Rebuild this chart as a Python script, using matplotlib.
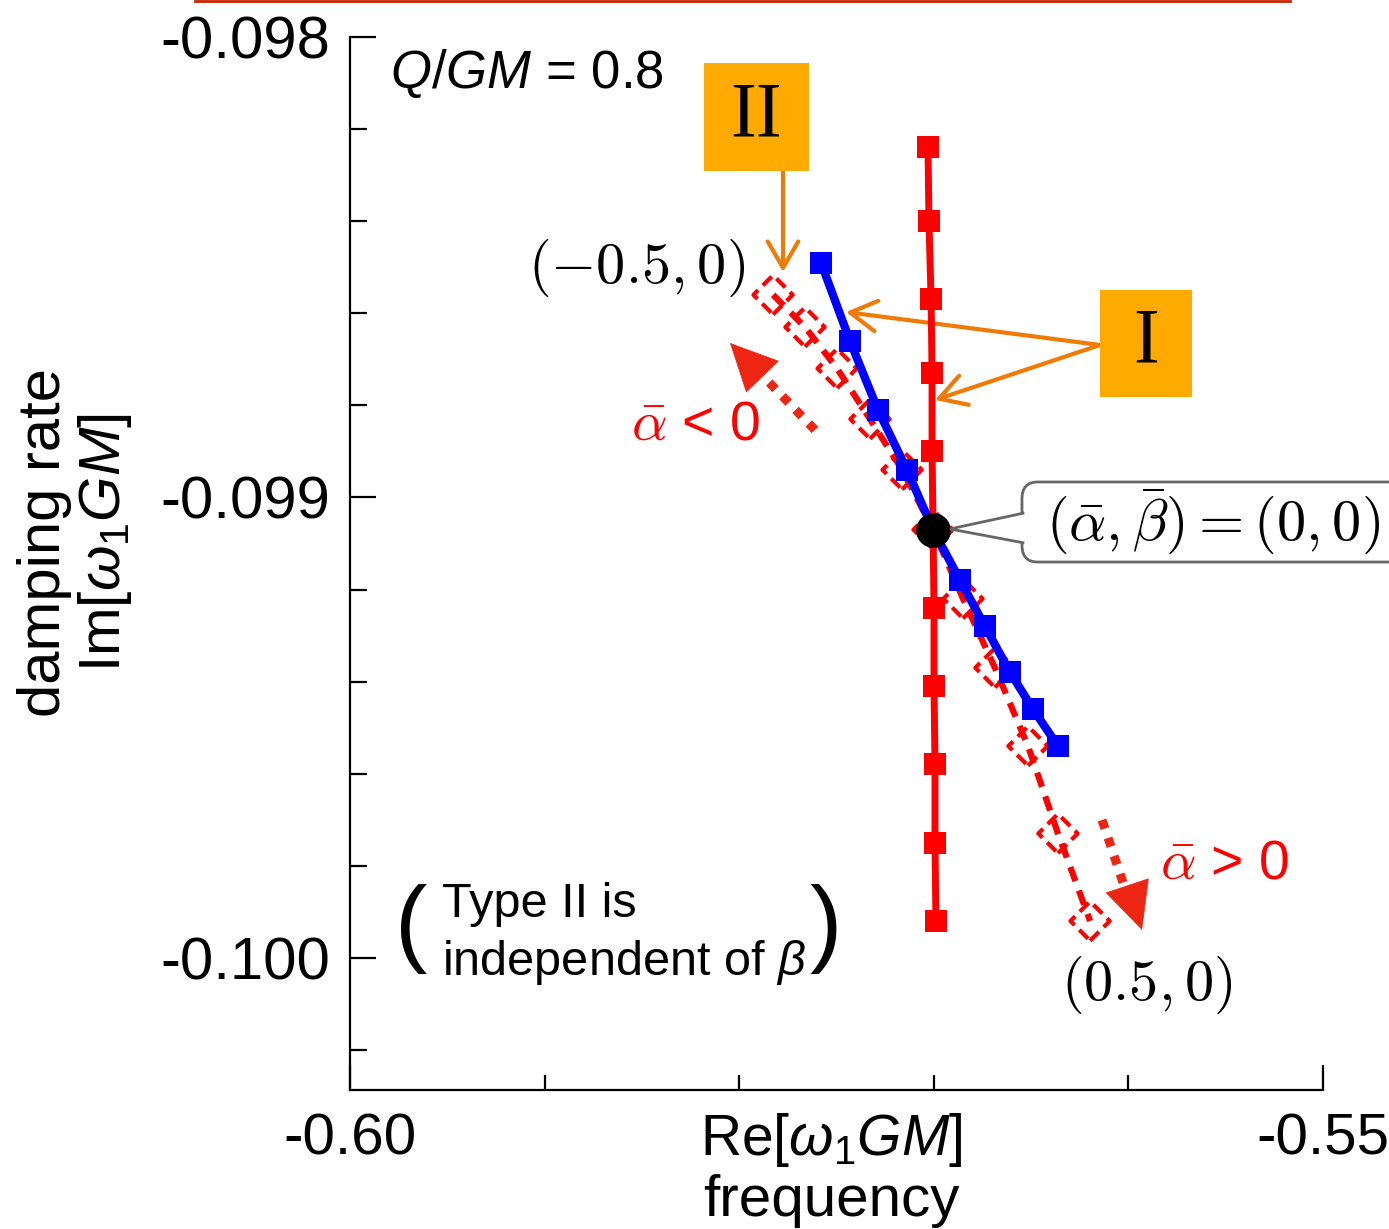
import matplotlib.pyplot as plt
from matplotlib.patches import Rectangle, FancyBboxPatch, Polygon
from matplotlib.lines import Line2D

plt.rcParams['font.family'] = ['Liberation Sans', 'DejaVu Sans']
plt.rcParams['mathtext.fontset'] = 'custom'
plt.rcParams['mathtext.rm'] = 'Liberation Sans'
plt.rcParams['mathtext.it'] = 'Liberation Sans:italic'
plt.rcParams['mathtext.bf'] = 'Liberation Sans:bold'
plt.rcParams['axes.unicode_minus'] = False

# type I, beta varied (red, solid squares)
beta_re = [-0.57030, -0.57025, -0.57014, -0.57009, -0.57009, -0.57004,
           -0.56999, -0.56999, -0.56994, -0.56994, -0.56989]
beta_im = [-0.09824, -0.09840, -0.09857, -0.09873, -0.09890, -0.09907,
           -0.09924, -0.09941, -0.09958, -0.09975, -0.09992]

# type I, alpha varied (blue squares)
alpha_re = [-0.57580, -0.57431, -0.57287, -0.57138, -0.57004,
            -0.56865, -0.56737, -0.56608, -0.56490, -0.56362]
alpha_im = [-0.09849, -0.09866, -0.09881, -0.09894, -0.09907,
            -0.09918, -0.09928, -0.09938, -0.09946, -0.09954]

# type II, alpha varied (red dashed, open diamonds)
type2_re = [-0.57826, -0.57662, -0.57497, -0.57328, -0.57163, -0.57004,
            -0.56850, -0.56686, -0.56516, -0.56362, -0.56197]
type2_im = [-0.09856, -0.09863, -0.09872, -0.09883, -0.09894, -0.09907,
            -0.09922, -0.09937, -0.09954, -0.09973, -0.09992]

origin_re, origin_im = -0.57004, -0.09907

xmajor = [-0.60, -0.55]
xmajor_labels = ['-0.60', '-0.55']
xminor = [-0.59, -0.58, -0.57, -0.56]
ymajor = [-0.098, -0.099, -0.100]
ymajor_labels = ['-0.098', '-0.099', '-0.100']
yminor = [-0.0982, -0.0984, -0.0986, -0.0988, -0.0992, -0.0994, -0.0996,
          -0.0998, -0.1002]

RED = '#FF0000'
ARROW_RED = '#EC2612'
ORANGE = '#EF7A06'
BOX = '#FFAA00'
GREY = '#666666'

fig = plt.figure(figsize=(13.89, 12.29), dpi=100)
ax = fig.add_axes([0.2520, 0.1131, 0.7005, 0.8568])

# type II
ax.plot(type2_re, type2_im, color=RED, lw=4.5, ls=(0, (2.4, 1.6)), zorder=3)
ax.scatter(type2_re, type2_im, marker='D', s=20 ** 2, facecolors='none',
           edgecolors=RED, linewidths=3, linestyles=(0, (3, 1.6)), zorder=3)
# type I beta
ax.plot(beta_re, beta_im, color=RED, lw=5, marker='s', ms=16, mew=0, zorder=4)
# type I alpha
ax.plot(alpha_re, alpha_im, color='#0000FF', lw=6, marker='s', ms=16, mew=0,
        zorder=5)
ax.plot([origin_re], [origin_im], 'o', color='black', ms=24, zorder=6)

ax.set_xlim(-0.60, -0.55)
ax.set_ylim(-0.100287, -0.098)
ax.spines['top'].set_visible(False)
ax.spines['right'].set_visible(False)
for s in ['left', 'bottom']:
    ax.spines[s].set_linewidth(1.6)

ax.set_xticks(xmajor)
ax.set_xticklabels(xmajor_labels)
ax.set_xticks(xminor, minor=True)
ax.set_yticks(ymajor)
ax.set_yticklabels(ymajor_labels)
ax.set_yticks(yminor, minor=True)
ax.tick_params(which='both', direction='in', width=1.6, labelsize=42)
ax.tick_params(axis='x', which='major', length=18, pad=16)
ax.tick_params(axis='x', which='minor', length=11)
ax.tick_params(axis='y', which='major', length=19, pad=14, labelsize=43)
ax.tick_params(axis='y', which='minor', length=12)

# axis labels
ax.text(-0.3135, 0.5195, 'damping rate', transform=ax.transAxes, rotation=90,
        ha='center', va='center', fontsize=43)
ax.text(-0.2518, 0.5195, r'Im[$\omega_1GM$]', transform=ax.transAxes,
        rotation=90, ha='center', va='center', fontsize=42)
ax.text(0.4944, -0.0476, r'Re[$\omega_1GM$]', transform=ax.transAxes,
        ha='center', va='center', fontsize=41)
ax.text(0.4944, -0.1055, 'frequency', transform=ax.transAxes,
        ha='center', va='center', fontsize=42)

ax.text(0.0411, 0.9658, r'$Q/GM$ = 0.8', transform=ax.transAxes,
        ha='left', va='center', fontsize=38)

# label boxes
ax.add_patch(Rectangle((0.3638, 0.8727), 0.1079, 0.1026, transform=ax.transAxes,
                       facecolor=BOX, edgecolor='none', clip_on=False, zorder=7))
ax.text(0.4173, 0.9240, 'II', transform=ax.transAxes, ha='center',
        va='center', fontsize=56, family='Liberation Serif', zorder=8)
ax.add_patch(Rectangle((0.7708, 0.6581), 0.0946, 0.1016, transform=ax.transAxes,
                       facecolor=BOX, edgecolor='none', clip_on=False, zorder=7))
ax.text(0.8181, 0.7094, 'I', transform=ax.transAxes, ha='center',
        va='center', fontsize=56, family='Liberation Serif', zorder=8)

orange_arrow = dict(arrowstyle='->,head_length=19,head_width=11', color=ORANGE,
                    lw=3, mutation_scale=1, shrinkA=0, shrinkB=0)
ax.annotate('', xy=(0.4450, 0.7768), xytext=(0.4450, 0.8727),
            xycoords='axes fraction', arrowprops=orange_arrow, zorder=2)
ax.annotate('', xy=(0.5098, 0.7388), xytext=(0.7708, 0.7075),
            xycoords='axes fraction', arrowprops=orange_arrow, zorder=2)
ax.annotate('', xy=(0.6012, 0.6553), xytext=(0.7708, 0.7075),
            xycoords='axes fraction', arrowprops=orange_arrow, zorder=2)

# alpha direction arrows: dotted tails with filled heads
ax.plot([0.4779, 0.4214], [0.6268, 0.6809], transform=ax.transAxes,
        color=ARROW_RED, lw=6.5, ls=(0, (1, 1.1)), clip_on=False)
ax.plot([0.7729, 0.7970], [0.2564, 0.1900], transform=ax.transAxes,
        color=ARROW_RED, lw=6.5, ls=(0, (1, 1.1)), clip_on=False)
head = dict(arrowstyle='-|>,head_length=33,head_width=16', color=ARROW_RED,
            lw=0.5, mutation_scale=1, shrinkA=0, shrinkB=0)
ax.annotate('', xy=(0.3905, 0.7094), xytext=(0.4000, 0.7003),
            xycoords='axes fraction', arrowprops=head)
ax.annotate('', xy=(0.8140, 0.1519), xytext=(0.8100, 0.1630),
            xycoords='axes fraction', arrowprops=head)

ax.text(0.3556, 0.6315, r'$\bar{\alpha}$ < 0', transform=ax.transAxes,
        ha='center', va='center', fontsize=40, color=RED, math_fontfamily='cm')
ax.text(0.8993, 0.2140, r'$\bar{\alpha}$ > 0', transform=ax.transAxes,
        ha='center', va='center', fontsize=40, color=RED, math_fontfamily='cm')

ax.text(0.406, 0.7806, r'$(-0.5,0)$', transform=ax.transAxes, ha='right',
        va='center', fontsize=42, math_fontfamily='cm')
ax.text(0.8191, 0.0997, r'$(0.5,0)$', transform=ax.transAxes, ha='center',
        va='center', fontsize=42, math_fontfamily='cm')

# callout for the origin
ax.add_patch(FancyBboxPatch((0.6906, 0.5014), 0.40, 0.0760,
                            boxstyle='round,pad=0,rounding_size=0.016',
                            transform=ax.transAxes, fc='white', ec=GREY, lw=2,
                            clip_on=False, zorder=9))
ax.add_patch(Polygon([(0.6930, 0.5480), (0.6166, 0.5328), (0.6930, 0.5195)],
                     closed=False, transform=ax.transAxes, fc='white', ec=GREY,
                     lw=2, clip_on=False, zorder=10))
ax.text(0.7150, 0.5394, r'$(\bar{\alpha},\bar{\beta})=(0,0)$',
        transform=ax.transAxes, ha='left', va='center', fontsize=42,
        math_fontfamily='cm', zorder=11)

# note at lower left
ax.text(0.0627, 0.1530, '(', transform=ax.transAxes, ha='center', va='center',
        fontsize=70)
ax.text(0.4891, 0.1530, ')', transform=ax.transAxes, ha='center', va='center',
        fontsize=70)
ax.text(0.0946, 0.1757, 'Type II is', transform=ax.transAxes, ha='left',
        va='center', fontsize=35)
ax.text(0.0946, 0.1215, r'independent of $\beta$', transform=ax.transAxes,
        ha='left', va='center', fontsize=35)

fig.add_artist(Line2D([0.1404, 0.9287], [0.9990, 0.9990], color='#CC2200',
                      lw=2, transform=fig.transFigure))

fig.savefig('out.png', dpi=100)
